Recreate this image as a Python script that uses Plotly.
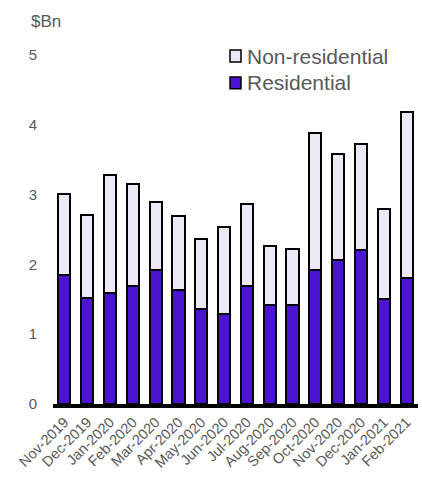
import plotly.graph_objects as go

months = ["Nov-2019", "Dec-2019", "Jan-2020", "Feb-2020", "Mar-2020", "Apr-2020",
          "May-2020", "Jun-2020", "Jul-2020", "Aug-2020", "Sep-2020", "Oct-2020",
          "Nov-2020", "Dec-2020", "Jan-2021", "Feb-2021"]
residential = [1.85, 1.52, 1.59, 1.69, 1.92, 1.63, 1.36, 1.29, 1.69, 1.42, 1.42,
               1.92, 2.07, 2.21, 1.50, 1.80]
non_residential = [1.16, 1.19, 1.69, 1.46, 0.98, 1.06, 1.00, 1.25, 1.17, 0.84, 0.80,
                   1.96, 1.51, 1.51, 1.29, 2.39]
y_ticks = [0, 1, 2, 3, 4, 5]

RES_COLOR = "#4A14D2"
NONRES_COLOR = "#EEE8F6"
TEXT_COLOR = "#595959"
FONT = "Liberation Sans, Arial, sans-serif"

fig = go.Figure()
fig.add_trace(go.Bar(
    x=months, y=residential, name="Residential",
    marker=dict(color=RES_COLOR, line=dict(color="black", width=2)),
    width=0.53,
))
fig.add_trace(go.Bar(
    x=months, y=non_residential, name="Non-residential",
    marker=dict(color=NONRES_COLOR, line=dict(color="black", width=2)),
    width=0.53,
))

# Hand-drawn legend: small outlined squares with labels beside them
legend_items = [("Non-residential", NONRES_COLOR, 0.980, 1.014, 0.997),
                ("Residential", RES_COLOR, 0.903, 0.937, 0.920)]
shapes = []
annotations = []
for label, color, y0, y1, yc in legend_items:
    shapes.append(dict(type="rect", xref="paper", yref="paper",
                       x0=0.485, x1=0.515, y0=y0, y1=y1,
                       fillcolor=color, line=dict(color="black", width=1.5)))
    annotations.append(dict(text=label, xref="paper", yref="paper",
                            x=0.527, y=yc, xanchor="left", yanchor="middle",
                            showarrow=False,
                            font=dict(size=21, color=TEXT_COLOR, family=FONT)))

annotations.append(dict(
    text="$Bn", xref="paper", yref="paper", x=-0.065, y=1.097,
    xanchor="left", yanchor="middle", showarrow=False,
    font=dict(size=17, color=TEXT_COLOR, family=FONT),
))

fig.update_layout(
    width=422, height=477,
    barmode="stack",
    plot_bgcolor="white", paper_bgcolor="white",
    margin=dict(l=53, r=4, t=55, b=73),
    font=dict(family=FONT, color=TEXT_COLOR, size=15),
    showlegend=False,
    shapes=shapes,
    annotations=annotations,
)
fig.update_xaxes(
    tickangle=-45, tickfont=dict(size=14.5, color=TEXT_COLOR, family=FONT),
    showline=True, linecolor="black", linewidth=4,
    showgrid=False, ticks="",
)
fig.update_yaxes(
    range=[0, 5], tickvals=y_ticks, showgrid=False, zeroline=False,
    showline=False, ticklabelstandoff=15,
    tickfont=dict(size=15, color=TEXT_COLOR, family=FONT),
)

fig.write_html("out.html")
